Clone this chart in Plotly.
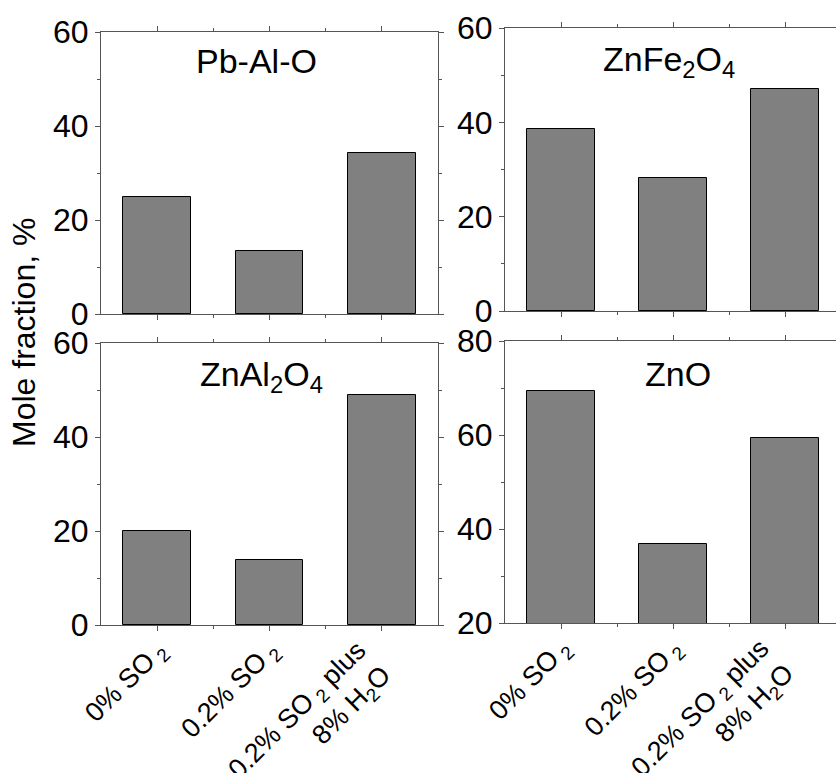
import plotly.graph_objects as go

# Gas-atmosphere conditions (x categories) and mole fractions per phase
conditions = ["0% SO<sub> 2</sub>", "0.2% SO<sub> 2</sub>",
              "0.2% SO<sub> 2</sub> plus<br>8% H<sub>2</sub>O"]
positions = [0, 1, 2]

pb_al_o = [24.9, 13.5, 34.3]
znfe2o4 = [38.6, 28.3, 47.1]
znal2o4 = [20.0, 13.8, 49.0]
zno = [69.4, 36.8, 59.3]

panel_titles = ["Pb-Al-O", "ZnFe<sub>2</sub>O<sub>4</sub>",
                "ZnAl<sub>2</sub>O<sub>4</sub>", "ZnO"]
panel_data = [pb_al_o, znfe2o4, znal2o4, zno]
y_ranges = [[0, 60], [0, 60], [0, 60], [20, 80]]
y_ticks = [[0, 20, 40, 60], [0, 20, 40, 60], [0, 20, 40, 60], [20, 40, 60, 80]]

W, H = 836, 773
FONT = "Liberation Sans, Arial, sans-serif"
AXIS_COLOR = "#555555"

# Panel geometry in pixels: (left, right, top, bottom)
panels_px = [
    (101, 438, 32, 314),
    (505, 836, 28, 311),
    (101, 438, 343, 625),
    (505, 836, 341, 623),
]
x_ranges = [[-0.5, 2.5], [-0.5, 2.455], [-0.5, 2.5], [-0.5, 2.455]]

fig = go.Figure()
layout = {}
annotations = []
for i, (vals, (l, r, t, b)) in enumerate(zip(panel_data, panels_px)):
    n = "" if i == 0 else str(i + 1)
    fig.add_trace(go.Bar(
        x=positions, y=vals, width=0.6,
        marker=dict(color="#808080", line=dict(color="black", width=1)),
        xaxis="x" + n, yaxis="y" + n, showlegend=False,
    ))
    right_col = i in (1, 3)
    bottom_row = i in (2, 3)
    layout["xaxis" + n] = dict(
        domain=[l / W, r / W], anchor="y" + n, range=x_ranges[i],
        tickvals=positions, showticklabels=False,
        ticks="outside", ticklen=5, tickcolor=AXIS_COLOR,
        minor=dict(tickvals=[0.5, 1.5], ticks="outside", ticklen=3,
                   tickcolor=AXIS_COLOR),
        showline=True, linecolor=AXIS_COLOR, linewidth=1,
        mirror="ticks", showgrid=False, zeroline=False, automargin=False,
        fixedrange=True,
    )
    layout["yaxis" + n] = dict(
        domain=[1 - b / H, 1 - t / H], anchor="x" + n, range=y_ranges[i],
        tickvals=y_ticks[i],
        ticks="outside", ticklen=5, tickcolor=AXIS_COLOR,
        minor=dict(dtick=10, tick0=0, ticks="outside", ticklen=3,
                   tickcolor=AXIS_COLOR),
        showline=True, linecolor=AXIS_COLOR, linewidth=1,
        mirror=False if right_col else "ticks",
        showgrid=False, zeroline=False, automargin=False,
        tickfont=dict(family=FONT, size=32, color="black"),
        fixedrange=True,
    )
    # Slanted category labels under the bottom panels; each rotated block
    # hangs from its tick by its upper-right corner
    if bottom_row:
        for pos, label in zip(positions, conditions):
            annotations.append(dict(
                text=label, xref="x" + n, yref="paper",
                x=pos, y=1 - b / H, xanchor="right", yanchor="top",
                xshift=20, yshift=-7, textangle=-45, align="right",
                showarrow=False,
                font=dict(family=FONT, size=27, color="black"),
            ))

title_pos = [(256, 61), (669, 62), (261, 376), (678, 374)]
for txt, (px, py) in zip(panel_titles, title_pos):
    annotations.append(dict(
        text=txt, xref="paper", yref="paper", x=px / W, y=1 - py / H,
        xanchor="center", yanchor="middle", showarrow=False,
        font=dict(family=FONT, size=34, color="black"),
    ))
annotations.append(dict(
    text="Mole fraction, %", xref="paper", yref="paper",
    x=24 / W, y=1 - 333 / H, xanchor="center", yanchor="middle",
    textangle=-90, showarrow=False,
    font=dict(family=FONT, size=32, color="black"),
))

fig.update_layout(
    template="none",
    width=W, height=H, margin=dict(l=0, r=0, t=0, b=0),
    paper_bgcolor="white", plot_bgcolor="white",
    annotations=annotations, bargap=0, **layout,
)

fig.write_html("out.html")
